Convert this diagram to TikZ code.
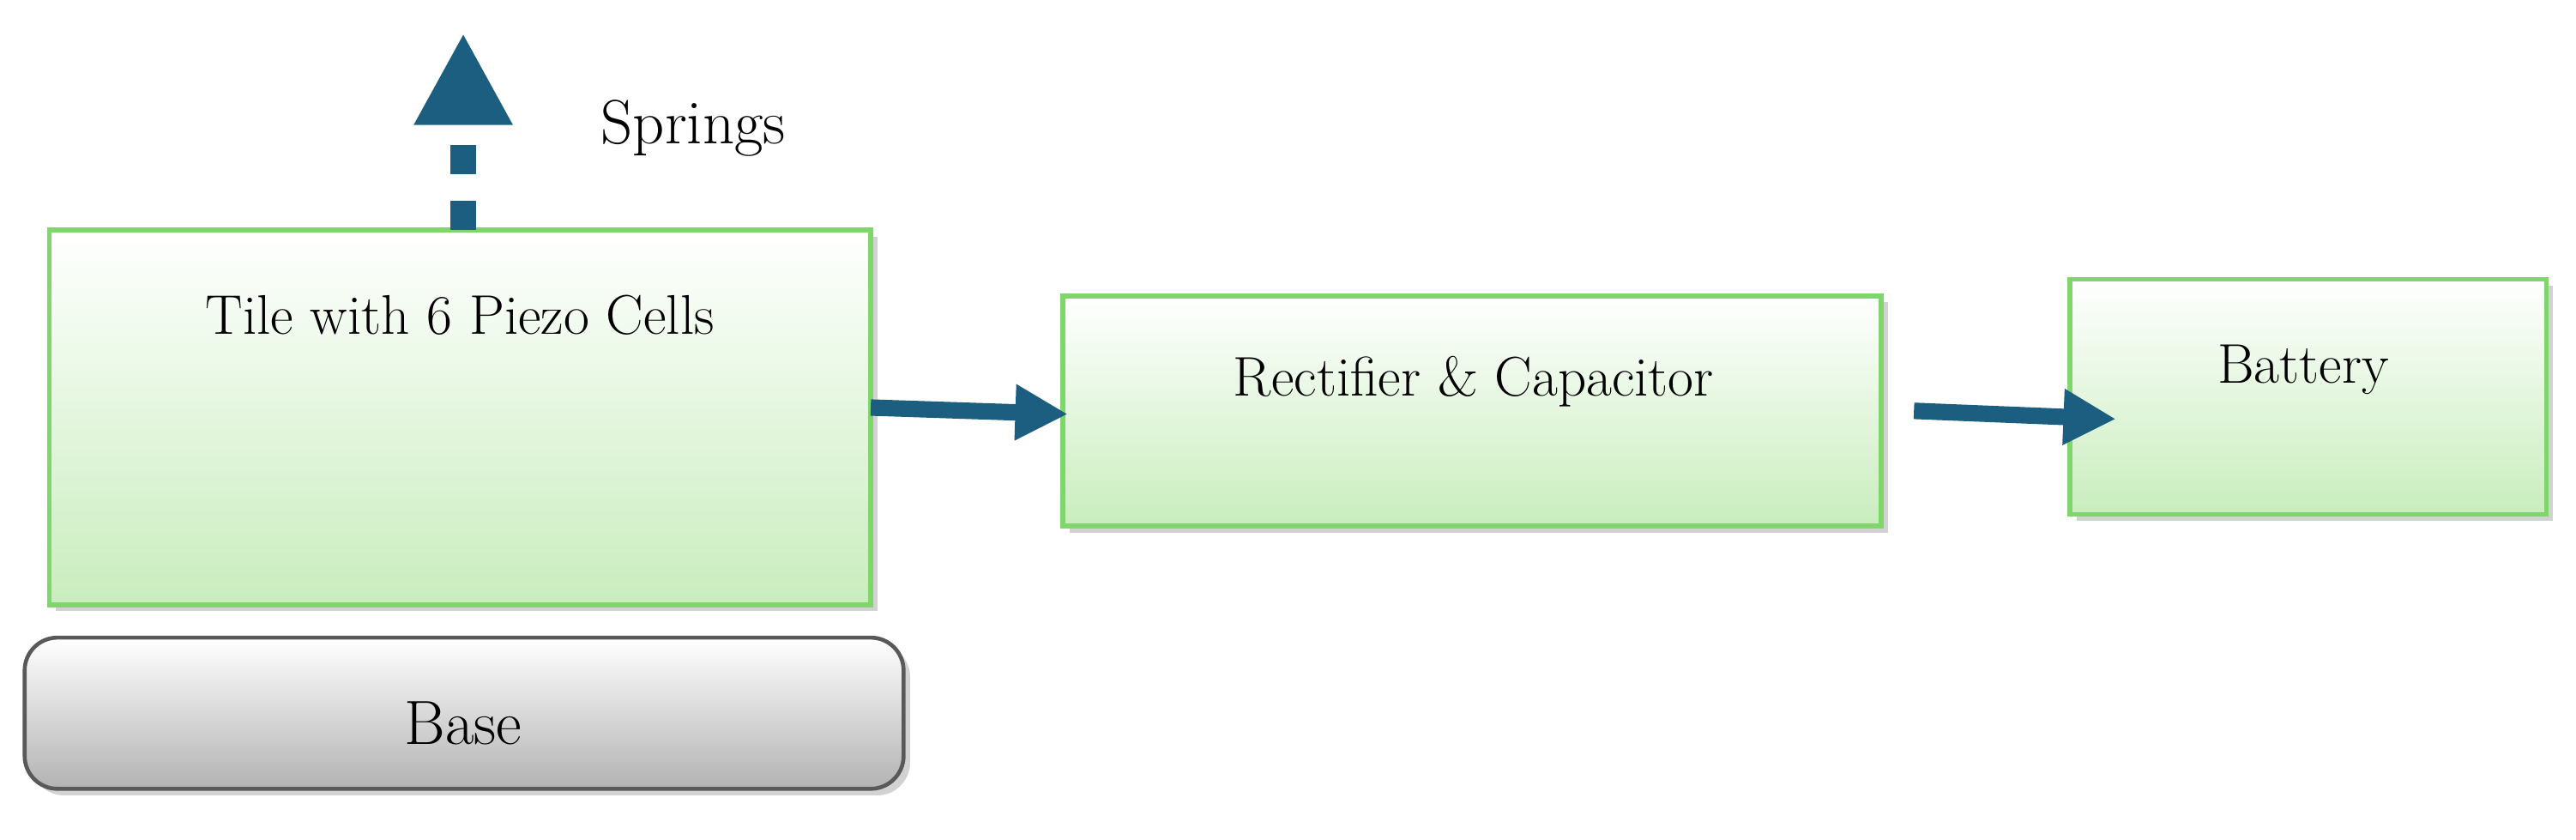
\documentclass[tikz,border=0pt]{standalone}
\usetikzlibrary{arrows.meta,shadows}
\definecolor{gb}{HTML}{7FD66A}
\definecolor{gf}{HTML}{C9EDBE}
\definecolor{ar}{HTML}{1B5E80}
\begin{document}
\begin{tikzpicture}[x=0.5pt,y=-0.5pt,
  box/.style={draw=gb,line width=1.5pt,top color=white,bottom color=gf,
    drop shadow={shadow xshift=2pt,shadow yshift=-2pt,fill=black!35}},
  lbl/.style={font=\fontsize{17}{20}\selectfont},
  conn/.style={draw=ar,line width=5pt,-{Triangle[length=16pt,width=16pt]}}]
\useasboundingbox (0,0) rectangle (1568,511);
\path[box] (30,140) rectangle (530,368);
\coordinate (tileE) at (530,248);
\node[lbl] (tile) at (280,192) {Tile with 6 Piezo Cells};
\path[draw=black!65,line width=1.2pt,rounded corners=10pt,top color=white,bottom color=black!30,
  drop shadow={shadow xshift=2pt,shadow yshift=-2pt,fill=black!35}] (15,388) rectangle (550,480);
\node[font=\fontsize{19}{22}\selectfont] (base) at (282,440) {Base};
\path[box] (647,180) rectangle (1145,320);
\node[lbl] (rect) at (897,232) {Rectifier \& Capacitor};
\coordinate (rectW) at (650,252);
\coordinate (rectE) at (1165,250);
\path[box] (1260,170) rectangle (1550,313);
\node[lbl] (bat) at (1402,225) {Battery};
\coordinate (batW) at (1288,255);
\coordinate (sprA) at (282,140);
\coordinate (sprB) at (282,20);
\node[font=\fontsize{19}{22}\selectfont] (spr) at (422,78) {Springs};
\draw[draw=ar,line width=8pt,dash pattern=on 9pt off 8pt,-{Triangle[length=28pt,width=28pt]}] (sprA) -- (sprB);
\draw[conn] (tileE) -- (rectW);
\draw[conn] (rectE) -- (batW);
\end{tikzpicture}
\end{document}
